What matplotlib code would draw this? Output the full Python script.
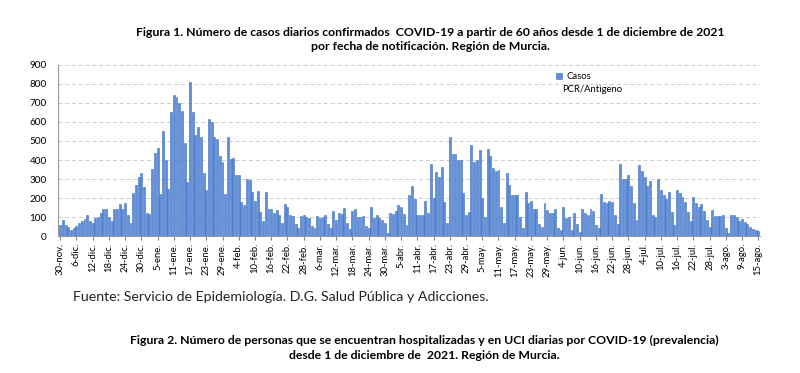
import numpy as np
import matplotlib.pyplot as plt

# casos diarios >= 60 años, del 30-nov-2021 al 15-ago-2022
casos = [
    60, 85, 60, 50, 30, 40, 55, 70, 80, 90, 110, 80, 70, 95, 100, 120, 140, 140,
    100, 80, 145, 140, 170, 145, 175, 110, 70, 225, 270, 310, 330, 260, 120, 115,
    355, 435, 465, 220, 555, 400, 250, 655, 740, 730, 700, 660, 490, 285, 810, 650,
    530, 575, 520, 330, 245, 615, 600, 520, 510, 420, 390, 220, 520, 405, 410, 320,
    320, 180, 165, 300, 295, 230, 185, 235, 125, 80, 230, 145, 140, 120, 135, 110,
    70, 170, 155, 110, 105, 65, 45, 105, 110, 100, 95, 55, 40, 105, 95, 100, 110,
    65, 40, 130, 85, 120, 115, 150, 70, 35, 130, 145, 100, 100, 105, 55, 45, 155,
    95, 110, 95, 85, 70, 15, 120, 115, 130, 165, 155, 115, 60, 215, 265, 195, 110,
    110, 110, 185, 120, 380, 200, 335, 310, 365, 180, 70, 520, 430, 430, 400, 400,
    225, 110, 125, 480, 390, 400, 455, 200, 100, 460, 420, 360, 340, 350, 155, 70,
    330, 270, 215, 215, 215, 100, 40, 230, 175, 185, 140, 145, 65, 50, 175, 135,
    120, 120, 140, 45, 30, 155, 95, 100, 30, 120, 65, 20, 140, 120, 110, 145, 130,
    60, 40, 220, 180, 175, 185, 180, 110, 65, 380, 300, 300, 320, 265, 175, 85, 375,
    340, 310, 265, 290, 110, 100, 300, 240, 215, 195, 230, 125, 60, 245, 225, 205,
    180, 125, 80, 205, 175, 155, 170, 130, 85, 50, 135, 105, 105, 105, 110, 40, 15,
    110, 110, 100, 80, 90, 75, 65, 50, 35, 30, 25,
]

etiquetas = [
    "30-nov.", "6-dic.", "12-dic.", "18-dic.", "24-dic.", "30-dic.", "5-ene.",
    "11-ene.", "17-ene.", "23-ene.", "29-ene.", "4-feb.", "10-feb.", "16-feb.",
    "22-feb.", "28-feb.", "6-mar.", "12-mar.", "18-mar.", "24-mar.", "30-mar.",
    "5-abr.", "11-abr.", "17-abr.", "23-abr.", "29-abr.", "5-may.", "11-may.",
    "17-may.", "23-may.", "29-may.", "4-jun.", "10-jun.", "16-jun.", "22-jun.",
    "28-jun.", "4-jul.", "10-jul.", "16-jul.", "22-jul.", "28-jul.", "3-ago.",
    "9-ago.", "15-ago.",
]

plt.rcParams['font.family'] = ['Lato', 'DejaVu Sans']

fig = plt.figure(figsize=(8, 3.73), dpi=100)
ax = fig.add_axes([0.0725, 0.367, 0.878, 0.459])

x = np.arange(len(casos))
ax.bar(x, casos, width=0.72, color='#5F8EDA', edgecolor='#3F6FC2', linewidth=0.4,
       label='Casos', zorder=3)

ax.set_ylim(0, 900)
ax.set_yticks(range(0, 901, 100))
ax.set_xlim(-0.8, len(casos) - 0.2)
ax.set_xticks(np.arange(0, len(casos), 6))
ax.set_xticklabels(etiquetas, rotation=90, fontsize=6.8)
ax.tick_params(axis='y', labelsize=7.2, length=0, pad=8)
ax.tick_params(axis='x', length=3, color='#888888', pad=2)
ax.yaxis.grid(True, linestyle=(0, (4, 3)), color='#cccccc', linewidth=0.7, zorder=0)
for s in ['top', 'right']:
    ax.spines[s].set_visible(False)
ax.spines['left'].set_color('#999999')
ax.spines['bottom'].set_color('#999999')

ax.legend(loc='upper left', bbox_to_anchor=(0.702, 0.985), frameon=False, fontsize=6.8,
          handlelength=0.7, handleheight=0.7, handletextpad=0.4, borderpad=0)
fig.text(0.703, 0.759, "PCR/Antigeno", ha='left', va='center', fontsize=6.8)

fig.text(0.538, 0.914, "Figura 1. Número de casos diarios confirmados  COVID-19 a partir de 60 años desde 1 de diciembre de 2021",
         ha='center', va='center', fontsize=8.8, fontweight='bold')
fig.text(0.538, 0.876, "por fecha de notificación. Región de Murcia.",
         ha='center', va='center', fontsize=8.8, fontweight='bold')

fig.text(0.091, 0.205, "Fuente: Servicio de Epidemiología. D.G. Salud Pública y Adicciones.",
         ha='left', va='center', fontsize=10.2, color='#222222')

fig.text(0.530, 0.088, "Figura 2. Número de personas que se encuentran hospitalizadas y en UCI diarias por COVID-19 (prevalencia)",
         ha='center', va='center', fontsize=8.8, fontweight='bold')
fig.text(0.530, 0.048, "desde 1 de diciembre de  2021. Región de Murcia.",
         ha='center', va='center', fontsize=8.8, fontweight='bold')

plt.savefig('out.png', dpi=100)
